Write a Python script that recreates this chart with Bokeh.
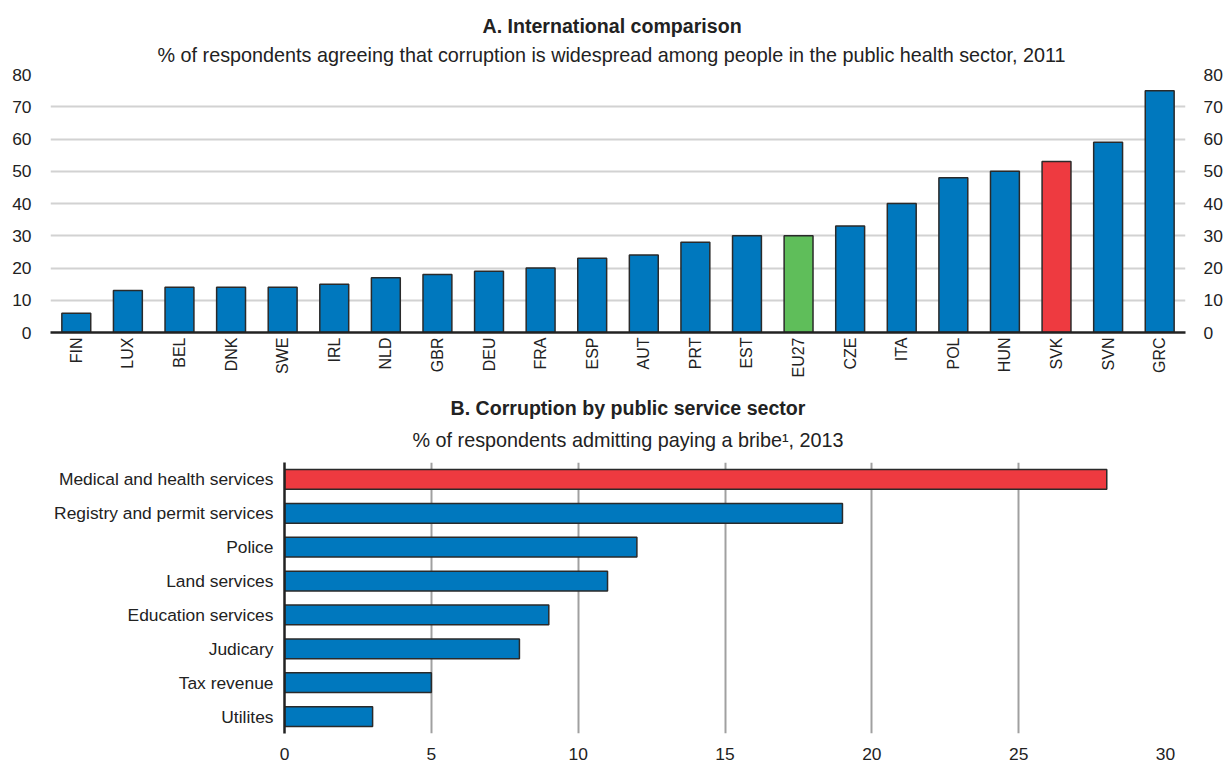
import math
from bokeh.plotting import figure
from bokeh.models import Title, LinearAxis, FactorRange, ColumnDataSource
from bokeh.layouts import column, row
from bokeh.embed import file_html
from bokeh.resources import INLINE

FONT = "Liberation Sans"
TXT = "#222222"
BLUE = "#0078BE"
RED = "#EE3A40"
GREEN = "#5FBE5A"

# ---- Panel A data ----
countries = ["FIN", "LUX", "BEL", "DNK", "SWE", "IRL", "NLD", "GBR", "DEU", "FRA", "ESP",
             "AUT", "PRT", "EST", "EU27", "CZE", "ITA", "POL", "HUN", "SVK", "SVN", "GRC"]
share_2011 = [6, 13, 14, 14, 14, 15, 17, 18, 19, 20, 23, 24, 28, 30, 30, 33, 40, 48, 50, 53, 59, 75]
a_ticks = [0, 10, 20, 30, 40, 50, 60, 70, 80]
title_a = "A. International comparison"
subtitle_a = "% of  respondents agreeing that corruption is widespread among people in the public health sector, 2011"

# ---- Panel B data ----
sectors = ["Medical and health services", "Registry and permit services", "Police",
           "Land services", "Education services", "Judicary", "Tax revenue", "Utilites"]
bribe_2013 = [28, 19, 12, 11, 9, 8, 5, 3]
b_ticks = [0, 5, 10, 15, 20, 25, 30]
title_b = "B. Corruption by public service sector"
subtitle_b = "% of respondents admitting paying a bribe\u00b9, 2013"


def a_color(c):
    if c == "SVK":
        return RED
    if c == "EU27":
        return GREEN
    return BLUE


def style_title(t, size, bold, offset, standoff, valign):
    t.align = "left"
    t.offset = offset
    t.standoff = standoff
    t.vertical_align = valign
    t.text_font = FONT
    t.text_font_size = size
    t.text_font_style = "bold" if bold else "normal"
    t.text_color = TXT


srcA = ColumnDataSource(dict(x=countries, top=share_2011, color=[a_color(c) for c in countries]))

pA = figure(x_range=FactorRange(factors=countries), y_range=(0, 80),
            width=1227, height=388, output_backend="svg", toolbar_location=None,
            title=title_a,
            min_border_left=50, min_border_right=42, min_border_bottom=56, min_border_top=74,
            outline_line_color=None)
style_title(pA.title, "19.6px", True, 432, 0, "bottom")
subA = Title(text=subtitle_a)
style_title(subA, "19.8px", False, 107, 14, "top")
pA.add_layout(subA, "above")

pA.vbar(x="x", top="top", width=0.56, fill_color="color", line_color="#2a2a2a",
        line_width=1.5, source=srcA)

pA.xgrid.grid_line_color = None
pA.ygrid.grid_line_color = "#d2d2d2"
pA.ygrid.grid_line_width = 2
pA.yaxis.ticker = a_ticks
pA.yaxis.axis_line_color = None
pA.yaxis.major_tick_line_color = None
pA.yaxis.major_tick_out = 0
pA.yaxis.major_tick_in = 0
pA.yaxis.minor_tick_line_color = None
pA.yaxis.major_label_standoff = 19
pA.yaxis.major_label_text_font = FONT
pA.yaxis.major_label_text_font_size = "17.4px"
pA.yaxis.major_label_text_color = TXT

ra = LinearAxis(ticker=a_ticks, axis_line_color=None, major_tick_line_color=None,
                major_tick_out=0, major_tick_in=0,
                minor_tick_line_color=None, major_label_standoff=18,
                major_label_text_font=FONT, major_label_text_font_size="17.4px",
                major_label_text_color=TXT)
pA.add_layout(ra, "right")

pA.xaxis.axis_line_color = "#222222"
pA.xaxis.axis_line_width = 2.5
pA.xaxis.major_tick_line_color = None
pA.xaxis.major_tick_out = 0
pA.xaxis.major_tick_in = 0
pA.xaxis.minor_tick_line_color = None
pA.xaxis.major_label_orientation = math.pi / 2
pA.xaxis.major_label_standoff = 5
pA.xaxis.major_label_text_font = FONT
pA.xaxis.major_label_text_font_size = "16px"
pA.xaxis.major_label_text_color = TXT

# ---- Panel B ----
srcB = ColumnDataSource(dict(y=sectors, right=bribe_2013,
                             color=[RED] + [BLUE] * (len(sectors) - 1)))

pB = figure(y_range=FactorRange(factors=sectors[::-1]), x_range=(0, 30),
            width=1227, height=379, output_backend="svg", toolbar_location=None,
            title=title_b,
            min_border_left=284, min_border_right=62, min_border_bottom=34, min_border_top=74,
            outline_line_color=None)
style_title(pB.title, "19.6px", True, 166, 0, "bottom")
subB = Title(text=subtitle_b)
style_title(subB, "19.8px", False, 128, 20, "top")
pB.add_layout(subB, "above")

pB.hbar(y="y", right="right", left=0, height=0.58, fill_color="color", line_color="#2a2a2a",
        line_width=1.5, source=srcB)

pB.ygrid.grid_line_color = None
pB.xgrid.grid_line_color = "#a0a0a0"
pB.xgrid.grid_line_width = 2
pB.xaxis.ticker = b_ticks
pB.xaxis.axis_line_color = None
pB.xaxis.major_tick_line_color = None
pB.xaxis.major_tick_out = 0
pB.xaxis.major_tick_in = 0
pB.xaxis.minor_tick_line_color = None
pB.xaxis.major_label_standoff = 14
pB.xaxis.major_label_text_font = FONT
pB.xaxis.major_label_text_font_size = "17.4px"
pB.xaxis.major_label_text_color = TXT

pB.yaxis.axis_line_color = "#222222"
pB.yaxis.axis_line_width = 2.5
pB.yaxis.major_tick_line_color = None
pB.yaxis.major_tick_out = 0
pB.yaxis.major_tick_in = 0
pB.yaxis.minor_tick_line_color = None
pB.yaxis.major_label_standoff = 11
pB.yaxis.major_label_text_font = FONT
pB.yaxis.major_label_text_font_size = "17.4px"
pB.yaxis.major_label_text_color = TXT

layout = column(row(pA), row(pB), spacing=0)
open("out.html", "w").write(file_html(layout, INLINE))
